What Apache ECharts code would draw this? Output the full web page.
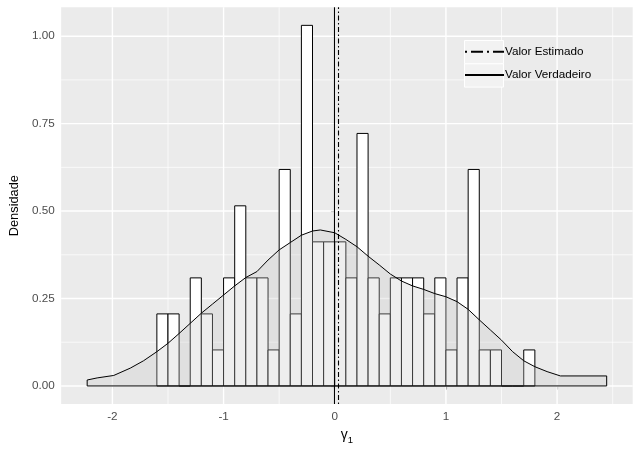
<!DOCTYPE html>
<html><head><meta charset="utf-8">
<script src="https://cdn.jsdelivr.net/npm/echarts@6/dist/echarts.min.js"></script>
<style>html,body{margin:0;padding:0;background:#fff}#c{width:640px;height:450px}</style>
</head><body><div id="c"></div>
<script>
// Histogram bins (edges) and density heights
const binEdges = [-1.6,-1.5,-1.4,-1.3,-1.2,-1.1,-1.0,-0.9,-0.8,-0.7,-0.6,-0.5,-0.4,-0.3,-0.2,-0.1,0.0,0.1,0.2,0.3,0.4,0.5,0.6,0.7,0.8,0.9,1.0,1.1,1.2,1.3,1.4,1.5,1.6,1.7,1.8];
const binDensity = [0.206,0.206,0,0.309,0.206,0.103,0.309,0.515,0.309,0.309,0.103,0.619,0.206,1.031,0.412,0.412,0.412,0.309,0.722,0.309,0.206,0.309,0.309,0.309,0.206,0.309,0.103,0.309,0.619,0.103,0.103,0,0,0.103];
// Density curve (polygon outline)
const densX = [-2.227,-2.227,-2.137,-1.988,-1.839,-1.72,-1.60,-1.50,-1.40,-1.30,-1.20,-1.10,-1.00,-0.90,-0.80,-0.70,-0.60,-0.50,-0.40,-0.30,-0.20,-0.13,0.00,0.10,0.20,0.30,0.40,0.50,0.60,0.70,0.80,0.90,1.00,1.10,1.20,1.30,1.40,1.50,1.60,1.70,1.80,1.91,2.03,2.446,2.446];
const densY = [0,0.017,0.023,0.030,0.051,0.072,0.098,0.122,0.150,0.179,0.208,0.234,0.260,0.286,0.310,0.327,0.360,0.389,0.410,0.431,0.443,0.446,0.438,0.419,0.398,0.371,0.346,0.320,0.300,0.286,0.276,0.264,0.255,0.241,0.219,0.189,0.160,0.131,0.098,0.072,0.055,0.041,0.0286,0.0286,0];
const trueValue = 0;
const estValue = 0.026;
const seriesNames = ['Valor Estimado','Valor Verdadeiro'];
const xTicks = [-2,-1,0,1,2];
const xMinor = [-1.5,-0.5,0.5,1.5,2.5];
const yTicks = [0,0.25,0.5,0.75,1.0];
const yMinor = [0.125,0.375,0.625,0.875];
const xLimits = [-2.461, 2.680];
const yLimits = [-0.0516, 1.0826];

const chart = echarts.init(document.getElementById('c'), null, {renderer:'canvas'});
const FONT = "'Liberation Sans', Arial, sans-serif";
const hiddenSymbol = {color:'rgba(0,0,0,0)', borderColor:'rgba(0,0,0,0)', borderWidth:0, opacity:0};

function vGrid(width){
  return function(params, api){
    const cs = params.coordSys;
    const px = api.coord([api.value(0), yLimits[0]])[0];
    return {type:'line', shape:{x1:px,y1:cs.y,x2:px,y2:cs.y+cs.height}, style:{stroke:'#ffffff', lineWidth:width}};
  };
}
function hGrid(width){
  return function(params, api){
    const cs = params.coordSys;
    const py = api.coord([xLimits[0], api.value(1)])[1];
    return {type:'line', shape:{x1:cs.x,y1:py,x2:cs.x+cs.width,y2:py}, style:{stroke:'#ffffff', lineWidth:width}};
  };
}

const option = {
  animation:false,
  backgroundColor:'#ffffff',
  grid:{left:57, right:7.3, top:7.3, bottom:46, show:true, backgroundColor:'#ebebeb', borderWidth:0},
  xAxis:{
    type:'value', min:xLimits[0], max:xLimits[1],
    axisLine:{show:false},
    splitLine:{show:false},
    axisTick:{show:true, length:3.67, lineStyle:{color:'#333333', width:1.07}, customValues:xTicks},
    axisLabel:{customValues:xTicks, color:'#4d4d4d', fontSize:11.7, fontFamily:FONT, margin:6.5, formatter:v=>String(v)},
    name:'{g|γ}{s|1}', nameLocation:'middle', nameGap:24,
    nameTextStyle:{color:'#000', fontFamily:FONT, rich:{g:{fontSize:14, fontFamily:FONT, color:'#000', verticalAlign:'bottom'}, s:{fontSize:9.5, fontFamily:FONT, color:'#000', verticalAlign:'bottom', padding:[0,0,-3,0]}}}
  },
  yAxis:{
    type:'value', min:yLimits[0], max:yLimits[1],
    axisLine:{show:false},
    splitLine:{show:false},
    axisTick:{show:true, length:3.67, lineStyle:{color:'#333333', width:1.07}, customValues:yTicks},
    axisLabel:{customValues:yTicks, color:'#4d4d4d', fontSize:11.7, fontFamily:FONT, margin:6.5, formatter:v=>v.toFixed(2)},
    name:'Densidade', nameLocation:'middle', nameGap:37,
    nameTextStyle:{color:'#000', fontSize:12.8, fontFamily:FONT}
  },
  legend:{
    orient:'vertical', left:464, top:40, padding:0, itemGap:0,
    itemWidth:39, itemHeight:29.1, z:10,
    itemStyle:hiddenSymbol,
    data:seriesNames.map(n=>({name:n, itemStyle:hiddenSymbol})),
    textStyle:{color:'#000', fontSize:11.7, fontFamily:FONT, padding:[0,0,0,-4]}
  },
  graphic:[
    {type:'rect', left:464, top:40, z:3, shape:{width:39, height:23.3}, style:{fill:'#f2f2f2', stroke:'#ffffff', lineWidth:1}},
    {type:'rect', left:464, top:63.3, z:3, shape:{width:39, height:23.3}, style:{fill:'#f2f2f2', stroke:'#ffffff', lineWidth:1}}
  ],
  series:[
    {type:'custom', name:'gx', silent:true, z:1, renderItem:vGrid(0.71), data:xMinor.map(v=>[v,0])},
    {type:'custom', name:'gy', silent:true, z:1, renderItem:hGrid(0.71), data:yMinor.map(v=>[0,v])},
    {type:'custom', name:'GX', silent:true, z:1, renderItem:vGrid(1.42), data:xTicks.map(v=>[v,0])},
    {type:'custom', name:'GY', silent:true, z:1, renderItem:hGrid(1.42), data:yTicks.map(v=>[0,v])},
    {type:'custom', name:'hist', silent:true, z:2,
     encode:{x:[0,1], y:2},
     data:binDensity.map((d,i)=>[binEdges[i], binEdges[i+1], d]),
     renderItem:function(params, api){
       const p0 = api.coord([api.value(0), api.value(2)]);
       const p1 = api.coord([api.value(1), 0]);
       return {type:'rect', shape:{x:p0[0], y:p0[1], width:p1[0]-p0[0], height:p1[1]-p0[1]}, style:{fill:'#ffffff', stroke:'#000000', lineWidth:1}};
     }},
    {type:'custom', name:'dens', silent:true, z:3,
     data:[[densX[0], densY[0]]],
     renderItem:function(params, api){
       const pts = densX.map((x,i)=>api.coord([x, densY[i]]));
       return {type:'polygon', shape:{points:pts}, style:{fill:'rgba(200,200,200,0.3)', stroke:'#000000', lineWidth:1}};
     }},
    {type:'line', name:seriesNames[0], data:[], symbol:'none', z:5,
     lineStyle:{color:'#000', width:2.2, type:[2,4,12,4]}, itemStyle:hiddenSymbol,
     markLine:{silent:true, symbol:'none', label:{show:false}, animation:false,
       lineStyle:{color:'#000', width:1.1, type:[1.5,2.5,5,2.5]}, data:[{xAxis:estValue}]}},
    {type:'line', name:seriesNames[1], data:[], symbol:'none', z:5,
     lineStyle:{color:'#000', width:2.2, type:'solid'}, itemStyle:hiddenSymbol,
     markLine:{silent:true, symbol:'none', label:{show:false}, animation:false,
       lineStyle:{color:'#000', width:1.1, type:'solid'}, data:[{xAxis:trueValue}]}}
  ]
};
chart.setOption(option);
</script></body></html>
